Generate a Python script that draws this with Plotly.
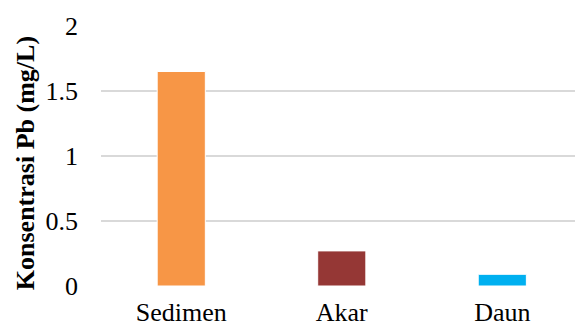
import plotly.graph_objects as go

# Pb concentration per sample type
categories = ["Sedimen", "Akar", "Daun"]
pb_values = [1.65, 0.27, 0.09]
bar_colors = ["#F79646", "#953735", "#00B0F0"]
y_ticks = [0, 0.5, 1, 1.5, 2]
y_tick_labels = ["0", "0.5", "1", "1.5", "2"]
y_title = "Konsentrasi Pb (mg/L)"

fig = go.Figure(
    go.Bar(
        x=categories,
        y=pb_values,
        marker=dict(color=bar_colors, line=dict(color="white", width=1)),
        width=0.3,
    )
)

serif = "Liberation Serif"
label_font = dict(family=serif, size=26, color="black")

fig.update_layout(
    width=575,
    height=329,
    margin=dict(l=101, r=0, t=26, b=43),
    paper_bgcolor="white",
    plot_bgcolor="white",
    showlegend=False,
    font=label_font,
    xaxis=dict(
        range=[-0.5, 2.453],
        automargin=False,
        showgrid=False,
        showline=False,
        ticks="",
        ticklabelstandoff=8,
        tickfont=label_font,
    ),
    yaxis=dict(
        range=[0, 2],
        automargin=False,
        tickvals=y_ticks,
        ticktext=y_tick_labels,
        showgrid=True,
        gridcolor="#D9D9D9",
        gridwidth=1.5,
        zeroline=False,
        showline=False,
        ticks="",
        ticklabelstandoff=22,
        tickfont=label_font,
    ),
    annotations=[
        dict(
            text=f"<b>{y_title}</b>",
            xref="paper",
            yref="paper",
            x=-0.160,
            y=0.473,
            xanchor="center",
            yanchor="middle",
            textangle=-90,
            showarrow=False,
            font=label_font,
        )
    ],
)

fig.write_html("out.html")
